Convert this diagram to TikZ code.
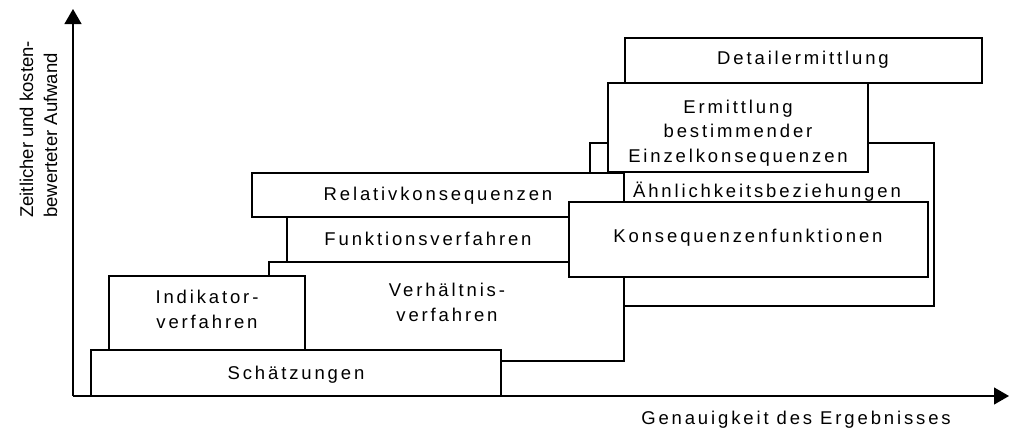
\documentclass[tikz,border=0pt]{standalone}
\usepackage{fontspec}
\setmainfont{Liberation Sans}
\newfontfamily\spacedfont[LetterSpace=15.5]{Liberation Sans}
\usetikzlibrary{arrows.meta}

\begin{document}
\begin{tikzpicture}[x=1pt, y=-1pt,
  box/.style={draw, fill=white, line width=1.2pt},
  lbl/.style={font=\spacedfont\fontsize{18.5}{24.5}\selectfont, align=center, anchor=base, inner sep=0pt},
  axis/.style={line width=1.2pt, -{Triangle[length=15pt, width=17pt]}}]
\useasboundingbox (0,0) rectangle (1010,432);

% axes
\coordinate (origin) at (73,396);
\coordinate (ytip) at (73,9);
\coordinate (xtip) at (1009,396);
\draw[axis] (origin) -- (ytip);
\draw[axis] (origin) -- (xtip);
% base of a multi-line node sits on its last line
\node[font=\fontsize{18.5}{24}\selectfont, rotate=90, align=left, anchor=base west, inner sep=0pt] (ylabel) at (57,218) {Zeitlicher und kosten-\\bewerteter Aufwand};
\node[lbl] (xlabel) at (796,424) {Genauigkeit des Ergebnisses};

% boxes, drawn back to front
\draw[box] (590,143) rectangle (934,306);
\node[lbl] (aehnl) at (767,197) {Ähnlichkeitsbeziehungen};
\draw[box] (269,262) rectangle (624,361);
\node[lbl] (verh) at (447,321) {Verhältnis-\\verfahren};
\draw[box] (252,173) rectangle (624,217);
\node[lbl] (relativ) at (438,200) {Relativkonsequenzen};
\draw[box] (287,217) rectangle (569,262);
\node[lbl] (funktion) at (428,245) {Funktionsverfahren};
\draw[box] (569,202) rectangle (928,277);
\node[lbl] (konsfkt) at (748,242) {Konsequenzenfunktionen};
\draw[box] (109,276) rectangle (305,350);
\node[lbl] (indikator) at (207,328) {Indikator-\\verfahren};
\draw[box] (91,350) rectangle (501,396);
\node[lbl] (schaetz) at (296,379) {Schätzungen};
\draw[box] (625,38) rectangle (982,83);
\node[lbl] (detail) at (803,64) {Detailermittlung};
\draw[box] (608,83) rectangle (868,172);
\node[lbl] (einzel) at (738,162) {Ermittlung\\bestimmender\\Einzelkonsequenzen};
\end{tikzpicture}
\end{document}
